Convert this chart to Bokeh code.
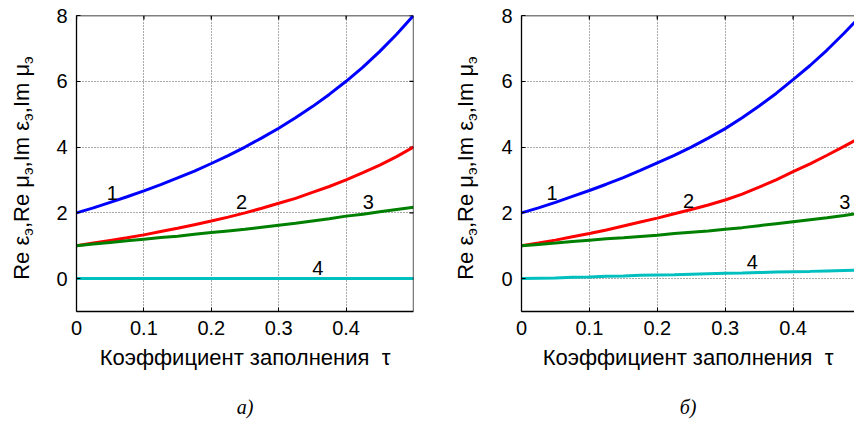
from bokeh.plotting import figure
from bokeh.layouts import row
from bokeh.models import (FixedTicker, NumeralTickFormatter, Range1d, Span, Title, Div)
from bokeh.core.properties import value
from bokeh.embed import file_html
from bokeh.resources import INLINE

# ---------------- data ----------------
tau = [0.0, 0.025, 0.05, 0.075, 0.10, 0.125, 0.15, 0.175, 0.20, 0.225, 0.25,
       0.275, 0.30, 0.325, 0.35, 0.375, 0.40, 0.425, 0.45, 0.475, 0.50]

a_re_eps = [2.0, 2.15, 2.32, 2.49, 2.67, 2.86, 3.06, 3.27, 3.50, 3.74, 4.00,
            4.28, 4.57, 4.89, 5.23, 5.60, 6.00, 6.43, 6.91, 7.43, 8.00]
a_re_mu = [1.0, 1.08, 1.16, 1.24, 1.33, 1.43, 1.53, 1.64, 1.75, 1.87, 2.00,
           2.14, 2.29, 2.44, 2.62, 2.80, 3.00, 3.22, 3.45, 3.71, 4.00]
a_im_eps = [1.0, 1.05, 1.10, 1.15, 1.20, 1.25, 1.29, 1.35, 1.40, 1.45, 1.50,
            1.56, 1.62, 1.68, 1.75, 1.82, 1.90, 1.96, 2.03, 2.10, 2.17]
a_im_mu = [0.0, 0.0, 0.0, 0.0, 0.0, 0.0, 0.0, 0.0, 0.0, 0.0, 0.0,
           0.0, 0.0, 0.0, 0.0, 0.0, 0.0, 0.0, 0.0, 0.0, 0.0]

b_re_eps = [2.0, 2.15, 2.32, 2.50, 2.68, 2.87, 3.07, 3.29, 3.52, 3.75, 4.00,
            4.27, 4.56, 4.89, 5.25, 5.63, 6.05, 6.48, 6.95, 7.46, 8.00]
b_re_mu = [1.0, 1.08, 1.17, 1.27, 1.37, 1.48, 1.60, 1.72, 1.84, 1.97, 2.10,
           2.24, 2.39, 2.57, 2.78, 3.00, 3.25, 3.49, 3.75, 4.02, 4.30]
b_im_eps = [1.0, 1.04, 1.08, 1.13, 1.17, 1.21, 1.24, 1.28, 1.32, 1.37, 1.41,
            1.45, 1.50, 1.55, 1.61, 1.67, 1.73, 1.79, 1.85, 1.92, 2.00]
b_im_mu = [0.0, 0.01, 0.02, 0.04, 0.05, 0.07, 0.08, 0.10, 0.11, 0.12, 0.135,
           0.15, 0.16, 0.17, 0.185, 0.20, 0.21, 0.22, 0.235, 0.25, 0.26]

x_ticks = [0, 0.1, 0.2, 0.3, 0.4]
y_ticks = [0, 2, 4, 6, 8]
curve_numbers = ["1", "2", "3", "4"]
a_num_x = [0.053, 0.245, 0.433, 0.358]
a_num_y = [2.59, 2.32, 2.32, 0.31]
b_num_x = [0.045, 0.246, 0.476, 0.340]
b_num_y = [2.60, 2.37, 2.32, 0.52]

x_label = "Коэффициент заполнения\u00a0\u00a0τ"
captions = ["а)", "б)"]
# y label pieces: (text, subscript)
y_label_pieces = [("Re ε", "э"), ("Re μ", "э"), ("Im ε", "э"), ("Im μ", "э")]

colors = ["#0000ff", "#ff0000", "#008000", "#00bfbf"]
FONT = "Liberation Sans"

FRAME_TOP = 15
FRAME_H = 296
TOTAL_H = 423
Y0, Y1 = -1, 8
PX_PER_Y = FRAME_H / (Y1 - Y0)


def make_ylabel(width, center_x):
    """Narrow HTML strip holding the rotated y-axis title with real subscripts."""
    label_len = 226
    center_y = 168
    html_text = ",".join(
        f"{main}<sub style='font-size:15px;vertical-align:-4px;line-height:0'>{sub}</sub>"
        for main, sub in y_label_pieces)
    inner = (f"<div style=\"position:relative; width:{label_len}px; height:40px; "
             f"line-height:40px; left:{center_x - label_len / 2}px; top:{center_y - 20}px; "
             f"transform:rotate(-90deg); transform-origin:50% 50%; text-align:center; "
             f"white-space:nowrap; font-family:'{FONT}'; font-size:22px; color:black;\">"
             f"{html_text}</div>")
    return Div(text=inner, width=width, height=TOTAL_H, margin=(0, 0, 0, 0),
               styles={"overflow": "visible", "background": "white"})


def make_panel(width, border_left, frame_w, xmax, series, num_x, num_y, caption, right_edge):
    p = figure(width=width, height=TOTAL_H, frame_width=frame_w, frame_height=FRAME_H,
               min_border_left=border_left, min_border_right=width - border_left - frame_w,
               min_border_top=FRAME_TOP, min_border_bottom=TOTAL_H - FRAME_TOP - FRAME_H,
               x_range=Range1d(0, xmax), y_range=Range1d(Y0, Y1),
               output_backend="svg", toolbar_location=None,
               outline_line_color=None, background_fill_color="white",
               border_fill_color="white", margin=(0, 0, 0, 0))

    xt = FixedTicker(ticks=x_ticks)
    yt = FixedTicker(ticks=y_ticks)
    p.xaxis.ticker = xt
    p.yaxis.ticker = yt
    p.xaxis.formatter = NumeralTickFormatter(format="0.[0]")
    for ax in (p.xaxis[0], p.yaxis[0]):
        ax.major_tick_in = 4
        ax.major_tick_out = 0
        ax.minor_tick_line_color = None
        ax.axis_line_color = "black"
        ax.axis_line_width = 1.3
        ax.major_tick_line_color = "black"
        ax.major_label_text_font = FONT
        ax.major_label_text_font_size = "20px"
        ax.major_label_text_color = "black"
    p.xaxis.major_label_standoff = 9
    p.yaxis.major_label_standoff = 9
    p.xaxis.axis_label = x_label
    p.xaxis.axis_label_text_font = FONT
    p.xaxis.axis_label_text_font_size = "22px"
    p.xaxis.axis_label_text_font_style = "normal"
    p.xaxis.axis_label_text_color = "black"
    p.xaxis.axis_label_standoff = 7

    # caption under the panel
    p.add_layout(Title(text=caption, align="center", text_font="Liberation Serif",
                       text_font_style="italic", text_font_size="20px",
                       text_color="black", standoff=43), "below")

    # frame edges (top, and right for the full panel)
    p.add_layout(Span(location=Y1, dimension="width", line_color="black", line_width=1.3))
    if right_edge:
        p.add_layout(Span(location=xmax, dimension="height", line_color="black", line_width=1.3))

    # inner ticks on top / right edges
    tick_len_y = 4 / PX_PER_Y
    p.segment(x0=x_ticks, x1=x_ticks, y0=[Y1] * len(x_ticks),
              y1=[Y1 - tick_len_y] * len(x_ticks), line_color="black", line_width=1.3)
    if right_edge:
        tick_len_x = 4 / (frame_w / xmax)
        p.segment(x0=[xmax] * len(y_ticks), x1=[xmax - tick_len_x] * len(y_ticks),
                  y0=y_ticks, y1=y_ticks, line_color="black", line_width=1.3)

    # grid
    p.xgrid.ticker = xt
    p.ygrid.ticker = yt
    for g in (p.xgrid[0], p.ygrid[0]):
        g.grid_line_color = "#555555"
        g.grid_line_dash = "1 2"
        g.grid_line_width = 1

    for ys, c in zip(series, colors):
        p.line(tau, ys, line_color=c, line_width=3)

    p.text(x=num_x, y=num_y, text=curve_numbers, text_font=value(FONT),
           text_font_size="20px", text_align="center", text_baseline="middle",
           text_color="black")
    return p


yl1 = make_ylabel(40, 22)
p1 = make_panel(400, 36, 337, 0.5, [a_re_eps, a_re_mu, a_im_eps, a_im_mu],
                a_num_x, a_num_y, captions[0], True)
yl2 = make_ylabel(44, 26)
p2 = make_panel(370, 37, 333, 333 / 679, [b_re_eps, b_re_mu, b_im_eps, b_im_mu],
                b_num_x, b_num_y, captions[1], False)

layout = row(yl1, p1, yl2, p2, spacing=0, margin=(0, 0, 0, 0))
open("out.html", "w").write(file_html(layout, INLINE))
